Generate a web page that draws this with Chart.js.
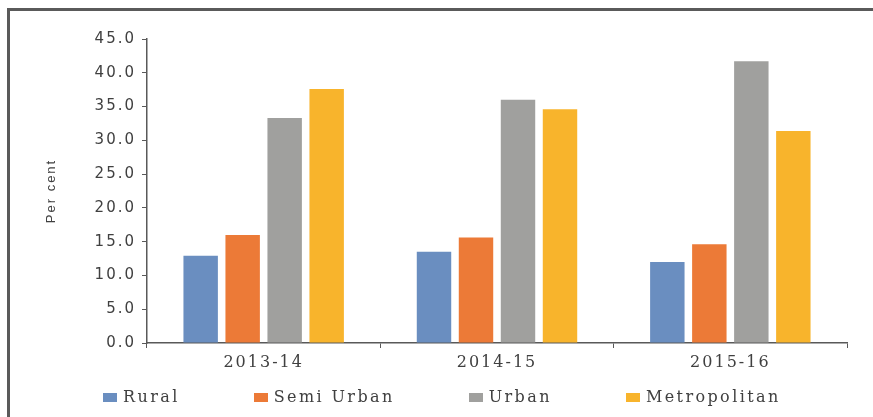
<!DOCTYPE html>
<html>
<head>
<meta charset="utf-8">
<script src="https://cdn.jsdelivr.net/npm/chart.js@4/dist/chart.umd.min.js"></script>
<style>
  html, body { margin: 0; padding: 0; background: #fff; overflow: hidden; }
  #wrap { position: relative; width: 873px; height: 417px; }
  #frame {
    position: absolute; left: 7px; top: 8px; width: 900px; height: 500px;
    border-left: 3px solid #5a5a5a; border-top: 3px solid #5a5a5a;
  }
  #perfChart { position: absolute; left: 0; top: 0; }
  #legend {
    position: absolute; left: 103px; top: 388px; height: 18px;
    display: flex; align-items: center; gap: 74px;
    font: 16px "DejaVu Serif", serif; letter-spacing: 2.4px; color: #404040;
  }
  .item { display: flex; align-items: center; line-height: 18px; white-space: nowrap; }
  .box { width: 14px; height: 9px; margin-right: 6px; }
</style>
</head>
<body>
<div id="wrap">
  <div id="frame"></div>
  <canvas id="perfChart" width="873" height="417"></canvas>
  <div id="legend"></div>
</div>
<script>
// values (per cent)
const categories = ['2013-14', '2014-15', '2015-16'];
const seriesNames = ['Rural', 'Semi Urban', 'Urban', 'Metropolitan'];
const rural = [12.9, 13.5, 12.0];
const semiUrban = [16.0, 15.6, 14.6];
const urban = [33.3, 36.0, 41.7];
const metropolitan = [37.6, 34.6, 31.4];
const colors = ['#6a8ec0', '#ec7a37', '#a0a09e', '#f8b42c'];

const axisColor = '#595959';
const textColor = '#404040';

// the source picture is a bit stretched sideways, widen the glyphs a little
const spacing = {
  id: 'spacing',
  beforeUpdate(chart) { chart.ctx.letterSpacing = '2px'; },
  beforeDraw(chart) { chart.ctx.letterSpacing = '2px'; }
};

const seriesData = [rural, semiUrban, urban, metropolitan];

const ctx = document.getElementById('perfChart');
new Chart(ctx, {
  type: 'bar',
  data: {
    labels: categories,
    datasets: seriesNames.map((name, i) => ({
      label: name,
      data: seriesData[i],
      backgroundColor: colors[i],
      borderWidth: 0,
      categoryPercentage: 0.72,
      barPercentage: 0.82,
    }))
  },
  plugins: [spacing],
  options: {
    responsive: false,
    animation: false,
    layout: { padding: { top: 39, right: 26, bottom: 44, left: 0 } },
    plugins: {
      legend: { display: false },
      tooltip: { enabled: false }
    },
    scales: {
      x: {
        grid: { display: true, drawOnChartArea: false, drawTicks: true, tickLength: 5, color: axisColor, offset: true },
        border: { color: axisColor, width: 1.5 },
        ticks: { color: textColor, padding: 5, font: { family: 'DejaVu Serif', size: 16 } },
        afterFit(scale) { scale.height = 30; }
      },
      y: {
        min: 0,
        max: 45,
        grid: { display: true, drawOnChartArea: false, drawTicks: true, tickLength: 5, color: axisColor },
        border: { color: axisColor, width: 1.5 },
        ticks: {
          stepSize: 5,
          color: textColor,
          padding: 6,
          font: { family: 'DejaVu Sans', size: 15 },
          callback: v => v.toFixed(1)
        },
        title: {
          display: true,
          text: 'Per cent',
          color: textColor,
          padding: { top: 44, bottom: 0 },
          font: { family: "'Liberation Sans Narrow', 'Liberation Sans', sans-serif", size: 13 }
        },
        afterFit(scale) { scale.width = 147; }
      }
    }
  }
});

// legend, built from the same names and colours
const legend = document.getElementById('legend');
seriesNames.forEach((name, i) => {
  const item = document.createElement('div');
  item.className = 'item';
  const box = document.createElement('span');
  box.className = 'box';
  box.style.background = colors[i];
  item.appendChild(box);
  item.appendChild(document.createTextNode(name));
  legend.appendChild(item);
});
</script>
</body>
</html>
